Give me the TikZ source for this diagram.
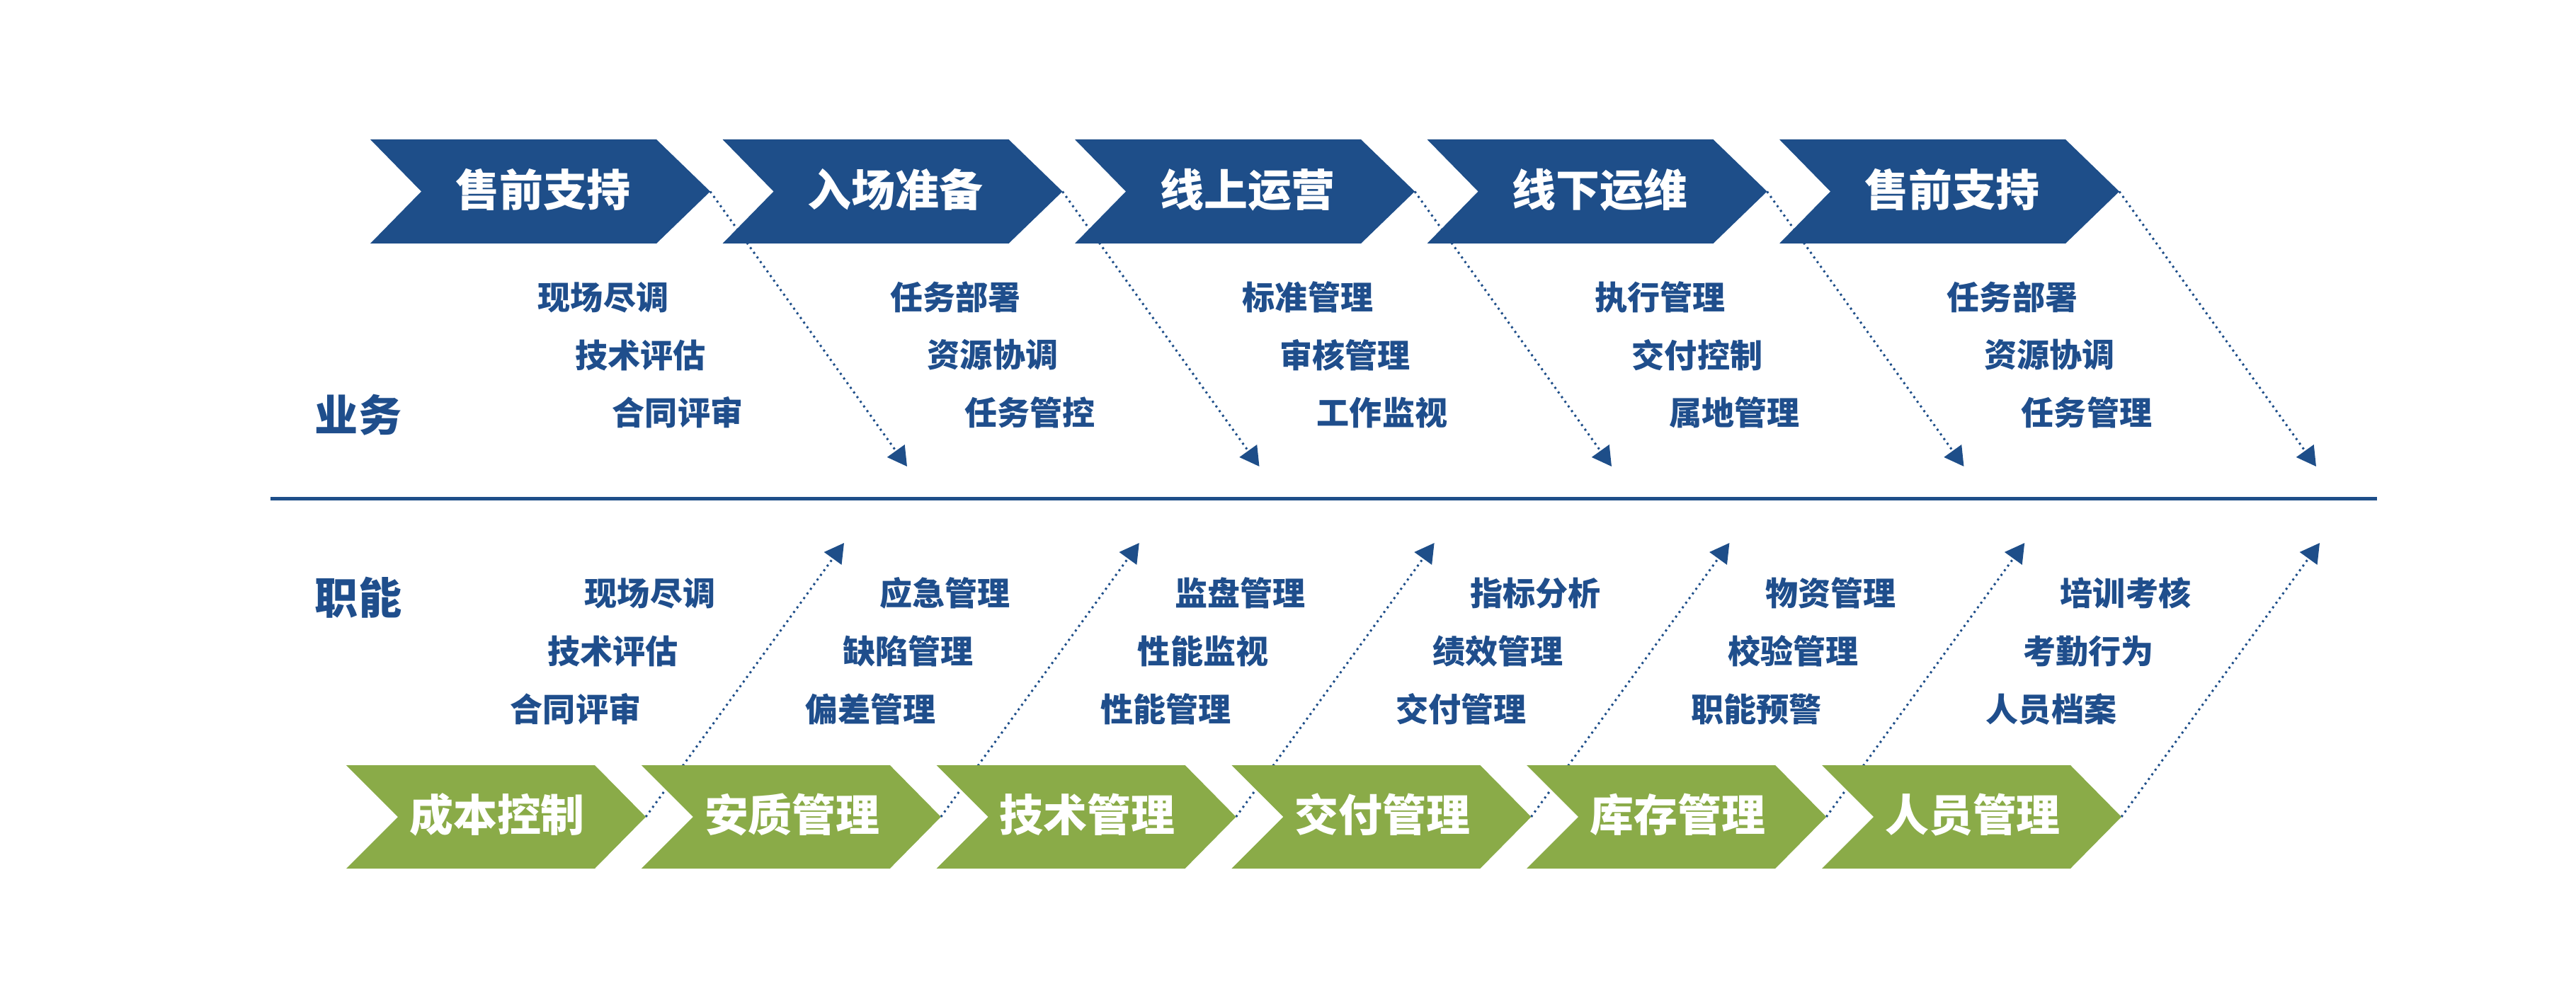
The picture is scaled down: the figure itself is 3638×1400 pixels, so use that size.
\documentclass[tikz,border=0pt]{standalone}
\usepackage{fontspec}
\setmainfont{Noto Sans CJK SC}
\newfontfamily\cjk{Noto Sans CJK SC}
\usetikzlibrary{arrows.meta}
\definecolor{cblue}{RGB}{30,78,137}
\definecolor{cgreen}{RGB}{138,171,72}
\definecolor{tblue}{RGB}{31,78,140}
\begin{document}
\begin{tikzpicture}[x=0.01cm,y=-0.01cm,
  chevtxt/.style={text=white, font=\cjk\bfseries\fontsize{17.6}{20}\selectfont, inner sep=0pt},
  subtxt/.style={text=tblue, font=\cjk\bfseries\fontsize{13.1}{15}\selectfont, inner sep=0pt},
  sidetxt/.style={text=tblue, font=\cjk\bfseries\fontsize{17.4}{20}\selectfont, inner sep=0pt},
  dotarrow/.style={draw=cblue, line width=0.85pt, dash pattern=on 0.8pt off 1.5pt,
    -{Triangle[length=7.7pt,width=8.5pt,fill=cblue]}},
  bluechev/.style={fill=cblue, draw=none},
  greenchev/.style={fill=cgreen, draw=none},
  divider/.style={draw=cblue, line width=1.4pt}
]
\useasboundingbox (0,0) rectangle (3638,1400);

% ---- coordinates of chevron tips and arrow ends ----
\foreach \i in {0,...,4}{
  \pgfmathsetmacro\L{523+497.5*\i}
  \coordinate (ttip\i) at ({\L+480},270.5);
  \coordinate (tend\i) at ({\L+480+278},659);
}
\foreach \i in {0,...,5}{
  \pgfmathsetmacro\L{489+416.8*\i}
  \coordinate (btip\i) at ({\L+423},1154);
  \coordinate (bend\i) at ({\L+423+280},767);
}

% ---- dotted arrows (behind chevrons) ----
\foreach \i in {0,...,4}{ \draw[dotarrow] (ttip\i) -- (tend\i); }
\foreach \i in {0,...,5}{ \draw[dotarrow] (btip\i) -- (bend\i); }

% ---- top (blue) chevrons ----
\foreach \i/\t in {0/售前支持,1/入场准备,2/线上运营,3/线下运维,4/售前支持}{
  \pgfmathsetmacro\L{523+497.5*\i}
  \fill[bluechev] (\L,197) -- ({\L+404},197) -- (ttip\i) -- ({\L+404},344)
     -- (\L,344) -- ({\L+72},270.5) -- cycle;
  \node[chevtxt] (tc\i) at ({\L+244},268) {\t};
}

% ---- bottom (green) chevrons ----
\foreach \i/\t in {0/成本控制,1/安质管理,2/技术管理,3/交付管理,4/库存管理,5/人员管理}{
  \pgfmathsetmacro\L{489+416.8*\i}
  \fill[greenchev] (\L,1081) -- ({\L+351},1081) -- (btip\i) -- ({\L+351},1227)
     -- (\L,1227) -- ({\L+73},1154) -- cycle;
  \node[chevtxt] (bc\i) at ({\L+213},1151) {\t};
}

% ---- divider ----
\coordinate (dl) at (382,704.5);
\coordinate (dr) at (3357,704.5);
\draw[divider] (dl) -- (dr);

% ---- side labels ----
\node[sidetxt] (yewu) at (506,586) {业务};
\node[sidetxt] (zhineng) at (506,844) {职能};

% ---- upper item texts ----
\foreach \i/\a/\b/\c in {0/现场尽调/技术评估/合同评审,1/任务部署/资源协调/任务管控,
   2/标准管理/审核管理/工作监视,3/执行管理/交付控制/属地管理,4/任务部署/资源协调/任务管理}{
  \pgfmathsetmacro\X{852+497.5*\i}
  \node[subtxt] (ua\i) at (\X,420) {\a};
  \node[subtxt] (ub\i) at ({\X+52.5},501.5) {\b};
  \node[subtxt] (uc\i) at ({\X+105},583) {\c};
}

% ---- lower item texts ----
\foreach \i/\a/\b/\c in {0/现场尽调/技术评估/合同评审,1/应急管理/缺陷管理/偏差管理,
   2/监盘管理/性能监视/性能管理,3/指标分析/绩效管理/交付管理,
   4/物资管理/校验管理/职能预警,5/培训考核/考勤行为/人员档案}{
  \pgfmathsetmacro\X{918+416.8*\i}
  \node[subtxt] (la\i) at (\X,838) {\a};
  \node[subtxt] (lb\i) at ({\X-52.5},920) {\b};
  \node[subtxt] (lc\i) at ({\X-105},1002) {\c};
}
\end{tikzpicture}
\end{document}
